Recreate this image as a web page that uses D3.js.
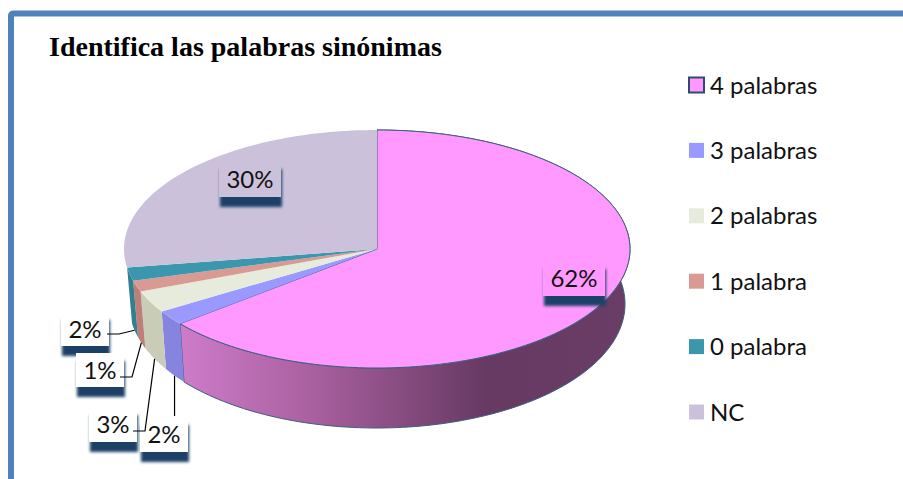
<!DOCTYPE html>
<html lang="en">
  <head>
    <meta charset="utf-8">
    <title>Identifica las palabras sinónimas</title>
    <script src="https://cdnjs.cloudflare.com/ajax/libs/d3/7.8.5/d3.min.js"></script>
    <style type="text/css">
      html, body { margin: 0; padding: 0; background: #fff; }
      svg { display: block; }
      .title { font-family: 'Liberation Serif'; font-weight: bold; font-size: 28px; }
      .legend, .pct { font-family: 'Lato'; font-size: 24px; fill: #111; }
    </style>
  </head>
  <body>
    <svg id="chart" width="903" height="479"></svg>
    <script type="text/javascript">
var categories = ["4 palabras", "3 palabras", "2 palabras", "1 palabra", "0 palabra", "NC"];
var pctLabels = ["62%", "2%", "3%", "1%", "2%", "30%"];
// slice shares as measured on the tilted pie, the printed labels are a bit different
var shares = [64.2, 2.0, 3.0, 1.5, 1.8, 27.5];
var topColors = ["#ff99ff", "#9999ff", "#e6ebdc", "#d99a94", "#3a97ad", "#ccc1da"];
var sideColors = ["url(#pinkSide)", "#8585e0", "#c9cdb8", "#bd7f78", "#32808f", "#b0a6bd"];

var w = 903, h = 479;
var svg = d3.select("#chart");

// top face and bottom rim of the pie (unit circle -> pixels)
var topX = d3.scaleLinear().domain([-1, 1]).range([124, 630]);
var topY = d3.scaleLinear().domain([-1, 1]).range([130, 368]);
var botX = d3.scaleLinear().domain([-1, 1]).range([129, 625]);
var botY = d3.scaleLinear().domain([-1, 1]).range([180, 428]);

var pie = d3.pie().sort(null).value(function(d) { return d; });
var slices = pie(shares);

function pt(xs, ys, a) {
  return [xs(Math.sin(a)), ys(-Math.cos(a))];
}
function arcPts(xs, ys, a0, a1) {
  var n = Math.max(2, Math.ceil((a1 - a0) * 40));
  return d3.range(n + 1).map(function(i) {
    return pt(xs, ys, a0 + (a1 - a0) * i / n);
  });
}
var line = d3.line();

var defs = svg.append("defs");
var grad = defs.append("linearGradient")
  .attr("id", "pinkSide")
  .attr("gradientUnits", "userSpaceOnUse")
  .attr("x1", 176).attr("x2", 630).attr("y1", 0).attr("y2", 0);
[[0, "#cf7dcb"], [0.3, "#a9609f"], [0.68, "#663a63"], [1, "#6a3d66"]].forEach(function(s) {
  grad.append("stop").attr("offset", s[0]).attr("stop-color", s[1]);
});
defs.append("filter").attr("id", "soft")
  .attr("x", "-20%").attr("y", "-20%").attr("width", "140%").attr("height", "140%")
  .append("feGaussianBlur").attr("stdDeviation", 1.8);

// frame
svg.append("path")
  .attr("d", "M11,479 V16 Q11,13.5 14,13.5 H903")
  .attr("fill", "none")
  .attr("stroke", "#4f81bd")
  .attr("stroke-width", 6);

// title
svg.append("text")
  .attr("class", "title")
  .attr("x", 49).attr("y", 56)
  .text("Identifica las palabras sinónimas");

// side walls (NC is at the back, no wall to see)
svg.selectAll("path.side")
  .data(slices.slice(0, 5))
  .enter().append("path")
  .attr("class", "side")
  .attr("d", function(d) {
    var a = arcPts(topX, topY, d.startAngle, d.endAngle);
    var b = arcPts(botX, botY, d.startAngle, d.endAngle).reverse();
    return line(a.concat(b)) + "Z";
  })
  .attr("fill", function(d, i) { return sideColors[i]; })
  .attr("stroke", function(d, i) { return i === 0 ? "#3d5f80" : "none"; })
  .attr("stroke-width", 1);

// top face
var cx = topX(0), cy = topY(0);
svg.selectAll("path.top")
  .data(slices)
  .enter().append("path")
  .attr("class", "top")
  .attr("d", function(d) {
    return line([[cx, cy]].concat(arcPts(topX, topY, d.startAngle, d.endAngle))) + "Z";
  })
  .attr("fill", function(d, i) { return topColors[i]; })
  .attr("stroke", function(d, i) { return i === 0 ? "#3d5f80" : "none"; })
  .attr("stroke-width", 1);

// data labels, in the order of the slices
var labelBoxes = [
  { x: 543, y: 261, w: 62, h: 35, fill: topColors[0] },
  { x: 140, y: 417, w: 48, h: 35, fill: "#fff", elbow: null, gap: 416 },
  { x: 89, y: 407, w: 48, h: 35, fill: "#fff", elbow: [133, 145, 431] },
  { x: 76, y: 353, w: 48, h: 34, fill: "#fff", elbow: [120, 132, 377] },
  { x: 61, y: 312, w: 48, h: 34, fill: "#fff", elbow: [107, 119, 334] },
  { x: 219, y: 161, w: 62, h: 36, fill: topColors[5] }
];

// draw the small ones back to front so the last 2% stays on top
var order = [5, 0, 4, 3, 2, 1];
order.forEach(function(i) {
  var b = labelBoxes[i];
  svg.append("rect")
    .attr("x", b.x + 1).attr("y", b.y + 8)
    .attr("width", b.w).attr("height", b.h + 2)
    .attr("fill", "#1f3f66")
    .attr("filter", "url(#soft)");
  svg.append("rect")
    .attr("x", b.x).attr("y", b.y)
    .attr("width", b.w).attr("height", b.h)
    .attr("fill", b.fill);
  svg.append("text")
    .attr("class", "pct")
    .attr("x", b.x + b.w / 2).attr("y", b.y + b.h / 2 + 8.5)
    .attr("text-anchor", "middle")
    .text(pctLabels[i]);
});

// leader lines, ending on the wall of each small slice
[1, 2, 3, 4].forEach(function(i) {
  var b = labelBoxes[i], s = slices[i];
  var mid = (s.startAngle + s.endAngle) / 2;
  var p = pt(botX, botY, mid);
  var pts;
  if (b.elbow) {
    pts = [[b.elbow[0], b.elbow[2]], [b.elbow[1], b.elbow[2]], p];
  } else {
    pts = [[p[0], b.gap], p];
  }
  svg.append("path")
    .attr("d", line(pts))
    .attr("fill", "none")
    .attr("stroke", "#000")
    .attr("stroke-width", 1.2);
});

// legend
var legendY = d3.scalePoint().domain(categories).range([85, 412]);
var legend = svg.selectAll("g.item")
  .data(categories)
  .enter().append("g")
  .attr("class", "item")
  .attr("transform", function(d) { return "translate(689," + legendY(d) + ")"; });
legend.append("rect")
  .attr("x", 0).attr("y", -7.5)
  .attr("width", 15).attr("height", 15)
  .attr("fill", function(d, i) { return topColors[i]; })
  .attr("stroke", function(d, i) { return i === 0 ? "#2f4b6e" : "none"; })
  .attr("stroke-width", 2);
legend.append("text")
  .attr("class", "legend")
  .attr("x", 21).attr("y", 8.5)
  .text(function(d) { return d; });
    </script>
  </body>
</html>
